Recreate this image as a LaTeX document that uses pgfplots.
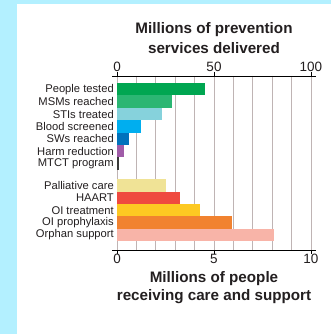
\documentclass[border=0pt]{standalone}
\usepackage{pgfplots}
\pgfplotsset{compat=1.18}
\usepackage{fontspec}
\setmainfont{Liberation Sans}
\definecolor{bgcyan}{HTML}{B3F0FF}
\definecolor{gridc}{HTML}{BFB4B4}
\definecolor{txt}{HTML}{231F20}
\definecolor{cA}{HTML}{00A651}
\definecolor{cB}{HTML}{2BB673}
\definecolor{cC}{HTML}{86D2DC}
\definecolor{cD}{HTML}{00AEEF}
\definecolor{cE}{HTML}{0072BC}
\definecolor{cF}{HTML}{A05CA8}
\definecolor{cG}{HTML}{3A3A3A}
\definecolor{cH}{HTML}{F0E396}
\definecolor{cI}{HTML}{EF4A3F}
\definecolor{cJ}{HTML}{FDC922}
\definecolor{cK}{HTML}{F1822F}
\definecolor{cL}{HTML}{F8B4A8}
\begin{document}
\begin{tikzpicture}
\fill[bgcyan] (0pt,0pt) rectangle (331pt,334pt);
\fill[white] (17pt,0pt) rectangle (331pt,330pt);
% top axis: prevention services (0-100)
\begin{axis}[
  at={(112pt,84pt)}, anchor=south west,
  scale only axis, width=204pt, height=174pt,
  xmin=-2.58, xmax=102.58, ymin=76, ymax=250, y dir=reverse,
  xbar, bar width=12.4, bar shift=0pt,
  axis x line*=top, axis y line*=left,
  x axis line style={-, line width=0.9pt, black},
  y axis line style={draw=none},
  xtick={0,50,100}, minor xtick={10,20,30,40,60,70,80,90},
  tick align=outside, major tick length=4pt, minor tick length=0pt,
  xtick style={black, line width=0.8pt},
  ytick style={draw=none},
  xmajorgrids, xminorgrids,
  major grid style={gridc, line width=0.8pt},
  minor grid style={gridc, line width=0.8pt},
  ytick={89.3,101.7,114.0,126.4,138.8,151.2,163.5,185.5,197.9,210.2,222.6,235.0},
  yticklabels={People tested,MSMs reached,STIs treated,Blood screened,SWs reached,Harm reduction,MTCT program,Palliative care,HAART,OI treatment,OI prophylaxis,Orphan support},
  yticklabel style={font=\fontsize{11.2}{12}\selectfont, text=txt, anchor=east, inner sep=0pt, xshift=6pt},
  xticklabel style={font=\fontsize{13.5}{14}\selectfont, text=txt, yshift=-3pt},
  /pgf/number format/assume math mode=true,
]
\addplot[fill=cA, draw=none] coordinates {(45.4,89.3)};
\addplot[fill=cB, draw=none] coordinates {(28.1,101.7)};
\addplot[fill=cC, draw=none] coordinates {(23.2,114.0)};
\addplot[fill=cD, draw=none] coordinates {(12.5,126.4)};
\addplot[fill=cE, draw=none] coordinates {(6.4,138.8)};
\addplot[fill=cF, draw=none] coordinates {(3.6,151.2)};
\addplot[fill=cG, draw=none] coordinates {(0.8,163.5)};
\end{axis}
% bottom axis: care and support (0-10)
\begin{axis}[
  at={(112pt,84pt)}, anchor=south west,
  scale only axis, width=204pt, height=174pt,
  xmin=-0.258, xmax=10.258, ymin=76, ymax=250, y dir=reverse,
  xbar, bar width=12.4, bar shift=0pt,
  axis x line*=bottom, axis y line=none,
  x axis line style={-, line width=0.9pt, black},
  xtick={0,5,10},
  tick align=outside, major tick length=4pt,
  xtick style={black, line width=0.8pt},
  xticklabel style={font=\fontsize{13.5}{14}\selectfont, text=txt, yshift=3.5pt},
  /pgf/number format/assume math mode=true,
]
\addplot[fill=cH, draw=none] coordinates {(2.51,185.5)};
\addplot[fill=cI, draw=none] coordinates {(3.26,197.9)};
\addplot[fill=cJ, draw=none] coordinates {(4.28,210.2)};
\addplot[fill=cK, draw=none] coordinates {(5.93,222.6)};
\addplot[fill=cL, draw=none] coordinates {(8.09,235.0)};
\end{axis}
\node[font=\fontsize{15.2}{16}\selectfont\bfseries, text=txt] at (214pt,304.7pt) {Millions of prevention};
\node[font=\fontsize{15.2}{16}\selectfont\bfseries, text=txt] at (214pt,286.3pt) {services delivered};
\node[font=\fontsize{15.2}{16}\selectfont\bfseries, text=txt] at (214pt,55.7pt) {Millions of people};
\node[font=\fontsize{15.2}{16}\selectfont\bfseries, text=txt] at (214pt,37.3pt) {receiving care and support};
\pgfresetboundingbox
\useasboundingbox (0pt,0pt) rectangle (331pt,334pt);
\end{tikzpicture}
\end{document}
